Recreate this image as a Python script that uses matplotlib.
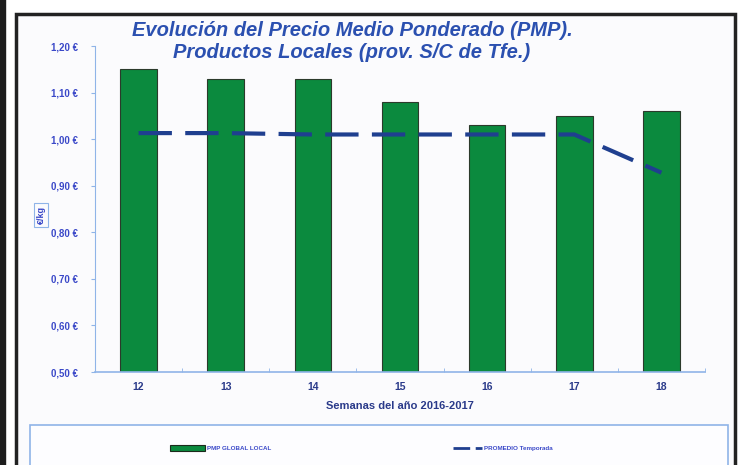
import matplotlib
matplotlib.use('Agg')
import matplotlib.pyplot as plt
from matplotlib.patches import Rectangle
from matplotlib.lines import Line2D

# data
semanas = ['12', '13', '14', '15', '16', '17', '18']
pmp_local = [1.15, 1.13, 1.13, 1.08, 1.03, 1.05, 1.06]
promedio = [1.013, 1.013, 1.010, 1.010, 1.010, 1.010, 0.928]
yticks = [0.50, 0.60, 0.70, 0.80, 0.90, 1.00, 1.10, 1.20]

plt.rcParams['font.family'] = ['Liberation Sans', 'DejaVu Sans']

W, H = 740, 465
fig = plt.figure(figsize=(W/100, H/100), dpi=100)
fig.patch.set_facecolor('white')

def px(x0, y0, x1, y1):
    # pixel box (top-left origin) -> figure coords
    return (x0/W, 1 - y1/H, (x1-x0)/W, (y1-y0)/H)

# outer frame
l, b, w, h = px(0, -5, 5, 470)
fig.patches.append(Rectangle((l, b), w, h, transform=fig.transFigure, color='#1c1c1c', zorder=0))
l, b, w, h = px(16, 14, 735, 475)
fig.patches.append(Rectangle((l, b), w, h, transform=fig.transFigure, facecolor='#fbfbfd',
                             edgecolor='#222222', lw=2.5, zorder=0))
l, b, w, h = px(30, 425, 728, 480)
fig.patches.append(Rectangle((l, b), w, h, transform=fig.transFigure, facecolor='#fdfdff',
                             edgecolor='#8fb4e8', lw=1.2, zorder=1))

ax = fig.add_axes(px(95, 46, 705, 372))
ax.set_zorder(5)
ax.set_facecolor('none')
x = list(range(len(semanas)))
ax.bar(x, pmp_local, width=0.42, bottom=0, color='#0b8a3e', edgecolor='#2b3a2b', linewidth=0.8, zorder=2)
ax.plot(x, promedio, color='#1f3f8f', lw=3, dashes=(8, 3.2), zorder=3)

ax.set_xlim(-0.5, 6.5)
ax.set_ylim(0.5, 1.2)
ax.set_yticks(yticks)
ax.set_yticklabels([('%.2f €' % v).replace('.', ',') for v in yticks],
                   fontsize=7, fontweight='bold', color='#3a48c8')
ax.set_xticks(x)
ax.set_xticklabels(semanas, fontsize=7.5, fontweight='bold', color='#2a3a8a')
ax.set_xticks([i - 0.5 for i in range(len(semanas) + 1)], minor=True)
ax.tick_params(axis='x', which='major', length=0, pad=7)
ax.tick_params(axis='x', which='minor', length=3, color='#8fb4e8', direction='in')
ax.tick_params(axis='y', length=3, color='#8fb4e8', pad=9)
for s in ['top', 'right']:
    ax.spines[s].set_visible(False)
ax.spines['left'].set_color('#8fb4e8')
ax.spines['bottom'].set_color('#8fb4e8')
ax.spines['bottom'].set_linewidth(1.2)

ax.set_xlabel('Semanas del año 2016-2017', fontsize=8, fontweight='bold', color='#2a3a8a', labelpad=7)

fig.text(352/W, 1 - 30/H, 'Evolución del Precio Medio Ponderado (PMP).', ha='center', va='center',
         fontsize=14.5, fontweight='bold', style='italic', color='#2b50b0')
fig.text(352/W, 1 - 52/H, 'Productos Locales (prov. S/C de Tfe.)', ha='center', va='center',
         fontsize=14.5, fontweight='bold', style='italic', color='#2b50b0')

fig.text(41/W, 1 - 215/H, '€/kg', rotation=90, ha='center', va='center', fontsize=6.5,
         fontweight='bold', color='#3a48c8',
         bbox=dict(boxstyle='square,pad=0.3', fc='none', ec='#8fb4e8', lw=0.8))

# legend
l, b, w, h = px(170, 445, 205, 451)
fig.patches.append(Rectangle((l, b), w, h, transform=fig.transFigure, facecolor='#0b8a3e',
                             edgecolor='#1c2a1c', lw=0.8, zorder=2))
fig.text(207/W, 1 - 448/H, 'PMP GLOBAL LOCAL', ha='left', va='center', fontsize=4.5,
         fontweight='bold', color='#3a48c8')
fig.lines.append(Line2D([453/W, 482/W], [1 - 448/H, 1 - 448/H], transform=fig.transFigure,
                        color='#1f3f8f', lw=2, dashes=(6, 2)))
fig.text(484/W, 1 - 448/H, 'PROMEDIO Temporada', ha='left', va='center', fontsize=4.5,
         fontweight='bold', color='#3a48c8')

fig.savefig('out.png', dpi=100)
